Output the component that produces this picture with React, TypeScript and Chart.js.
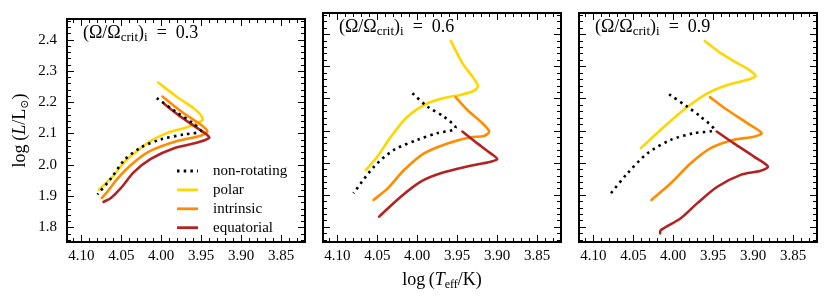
import React, { useEffect, useRef } from 'react';
import { Chart, registerables } from 'chart.js';

Chart.register(...registerables);

// ---------- data ----------
const seriesLabels = ['non-rotating', 'polar', 'intrinsic', 'equatorial'];
const seriesColors = ['#000000', '#FFD700', '#FF8C00', '#B22222'];
const rotationRates = ['0.3', '0.6', '0.9'];

const xTickValues = [4.1, 4.05, 4.0, 3.95, 3.9, 3.85];
const xTickLabels = ['4.10', '4.05', '4.00', '3.95', '3.90', '3.85'];
const yTickValues = [1.8, 1.9, 2.0, 2.1, 2.2, 2.3, 2.4];
const yTickLabels = ['1.8', '1.9', '2.0', '2.1', '2.2', '2.3', '2.4'];

type P = [number, number];

// Omega = 0.3
const w03NonRot: P[] = [[4.0056, 2.213], [3.982, 2.17], [3.9606, 2.133], [3.9506, 2.107], [3.9715, 2.097], [4.0006, 2.081], [4.0256, 2.055], [4.0465, 2.014], [4.063, 1.956], [4.0798, 1.905]];
const w03Polar: P[] = [[4.004, 2.263], [3.9797, 2.216], [3.959, 2.18], [3.9506, 2.159], [3.9485, 2.143], [3.9569, 2.131], [3.9715, 2.117], [3.9923, 2.102], [4.0131, 2.076], [4.0298, 2.045], [4.0465, 2.008], [4.059, 1.967], [4.0673, 1.946], [4.0778, 1.92]];
const w03Intrinsic: P[] = [[3.9985, 2.218], [3.9715, 2.164], [3.9506, 2.128], [3.9423, 2.107], [3.9506, 2.093], [3.98, 2.076], [4.0131, 2.045], [4.034, 2.008], [4.0548, 1.956], [4.067, 1.915], [4.0744, 1.894]];
const w03Equatorial: P[] = [[3.9965, 2.195], [3.978, 2.158], [3.957, 2.121], [3.9444, 2.099], [3.94, 2.086], [3.9548, 2.071], [3.984, 2.053], [4.0131, 2.019], [4.034, 1.977], [4.0506, 1.925], [4.063, 1.894], [4.0723, 1.881]];

// Omega = 0.6
const w06NonRot: P[] = [[4.006, 2.216], [3.987, 2.174], [3.9665, 2.143], [3.9519, 2.107], [3.9748, 2.092], [3.9998, 2.071], [4.029, 2.04], [4.054, 1.988], [4.0798, 1.905]];
const w06Polar: P[] = [[3.958, 2.379], [3.9435, 2.31], [3.931, 2.268], [3.924, 2.239], [3.929, 2.224], [3.9456, 2.211], [3.962, 2.204], [3.987, 2.185], [4.0123, 2.143], [4.033, 2.081], [4.0498, 2.019], [4.0644, 1.977]];
const w06Intrinsic: P[] = [[3.952, 2.204], [3.9373, 2.164], [3.9206, 2.128], [3.91, 2.097], [3.9165, 2.083], [3.933, 2.079], [3.962, 2.06], [3.9915, 2.029], [4.0165, 1.977], [4.037, 1.92], [4.0548, 1.884]];
const w06Equatorial: P[] = [[3.9435, 2.097], [3.9248, 2.06], [3.9081, 2.029], [3.8998, 2.011], [3.908, 2.003], [3.9373, 1.988], [3.9706, 1.967], [3.9956, 1.941], [4.0206, 1.894], [4.0477, 1.832]];

// Omega = 0.9
const w09NonRot: P[] = [[4.0052, 2.213], [3.9823, 2.174], [3.9656, 2.143], [3.949, 2.102], [3.974, 2.092], [4.003, 2.071], [4.0323, 2.029], [4.0573, 1.967], [4.079, 1.902]];
const w09Polar: P[] = [[3.9606, 2.379], [3.9406, 2.341], [3.9198, 2.31], [3.9052, 2.289], [3.8969, 2.27], [3.9073, 2.258], [3.9323, 2.242], [3.9573, 2.216], [3.982, 2.174], [4.0115, 2.112], [4.0406, 2.045]];
const w09Intrinsic: P[] = [[3.954, 2.204], [3.9323, 2.164], [3.9073, 2.123], [3.8894, 2.092], [3.899, 2.081], [3.924, 2.071], [3.9531, 2.045], [3.9781, 1.998], [4.0031, 1.936], [4.0273, 1.884]];
const w09Equatorial: P[] = [[3.9456, 2.097], [3.924, 2.06], [3.899, 2.019], [3.8815, 1.988], [3.8906, 1.975], [3.9156, 1.962], [3.9448, 1.925], [3.9698, 1.874], [3.9906, 1.827], [4.0156, 1.79], [4.0165, 1.78]];

const panelSeries: P[][][] = [
  [w03NonRot, w03Polar, w03Intrinsic, w03Equatorial],
  [w06NonRot, w06Polar, w06Intrinsic, w06Equatorial],
  [w09NonRot, w09Polar, w09Intrinsic, w09Equatorial],
];

// ---------- styling / layout ----------
const FAMILY = '"Liberation Serif", "DejaVu Serif", serif';
const X_MIN = 3.82;
const X_MAX = 4.118;
const Y_MIN = 1.753;
const Y_MAX = 2.466;
const PANEL_LEFT = [67, 323, 579];
const PANEL_W = 238;
const W = 830;
const H = 303;

type Seg = { t: string; size: number; italic?: boolean; dy?: number };

function drawRich(ctx: CanvasRenderingContext2D, segs: Seg[], x: number, y: number, align: 'left' | 'center') {
  const fontOf = (s: Seg) => `${s.italic ? 'italic ' : ''}${s.size}px ${FAMILY}`;
  let total = 0;
  const widths = segs.map((s) => {
    ctx.font = fontOf(s);
    const w = ctx.measureText(s.t).width;
    total += w;
    return w;
  });
  let cx = align === 'center' ? x - total / 2 : x;
  ctx.textBaseline = 'alphabetic';
  ctx.textAlign = 'left';
  segs.forEach((s, i) => {
    ctx.font = fontOf(s);
    ctx.fillText(s.t, cx, y + (s.dy || 0));
    cx += widths[i];
  });
}

function decoPlugin(panel: number) {
  return {
    id: 'deco' + panel,
    afterDraw(chart: any) {
      const { ctx, chartArea: a } = chart;
      const xs = chart.scales.x;
      const ys = chart.scales.y;
      ctx.save();
      ctx.strokeStyle = '#000';
      ctx.fillStyle = '#000';
      ctx.lineWidth = 1;
      ctx.setLineDash([]);
      ctx.beginPath();
      // x ticks (minor every 0.01, major every 0.05)
      for (let i = 382; i <= 411; i++) {
        const v = i / 100;
        const px = Math.round(xs.getPixelForValue(v)) + 0.5;
        if (px <= a.left + 1 || px >= a.right - 1) continue;
        const len = i % 5 === 0 ? 7 : 4;
        ctx.moveTo(px, a.bottom);
        ctx.lineTo(px, a.bottom - len);
        ctx.moveTo(px, a.top);
        ctx.lineTo(px, a.top + len);
      }
      // y ticks (minor every 0.02, major every 0.1)
      for (let i = 88; i <= 123; i++) {
        const v = i / 50;
        const py = Math.round(ys.getPixelForValue(v)) + 0.5;
        if (py <= a.top + 1 || py >= a.bottom - 1) continue;
        const len = i % 5 === 0 ? 7 : 4;
        ctx.moveTo(a.left, py);
        ctx.lineTo(a.left + len, py);
        ctx.moveTo(a.right, py);
        ctx.lineTo(a.right - len, py);
      }
      ctx.stroke();
      // frame
      ctx.lineWidth = 2;
      ctx.strokeRect(a.left, a.top, a.right - a.left, a.bottom - a.top);

      // annotation
      drawRich(
        ctx,
        [
          { t: '(', size: 18 },
          { t: 'Ω', size: 18 },
          { t: '/', size: 18 },
          { t: 'Ω', size: 18 },
          { t: 'crit', size: 13, dy: 3 },
          { t: ')', size: 18 },
          { t: 'i', size: 13, dy: 3 },
          { t: '\u2002=\u2002', size: 18 },
          { t: rotationRates[panel], size: 18 },
        ],
        a.left + 16,
        a.top + 19,
        'left'
      );

      if (panel === 0) {
        // legend
        seriesLabels.forEach((lab, k) => {
          const yy = a.top + 152 + k * 18.9;
          ctx.beginPath();
          ctx.strokeStyle = seriesColors[k];
          ctx.lineWidth = 2.8;
          ctx.lineCap = 'butt';
          ctx.setLineDash(k === 0 ? [2.5, 4.2] : []);
          ctx.moveTo(a.left + 110, yy);
          ctx.lineTo(a.left + 131, yy);
          ctx.stroke();
          ctx.setLineDash([]);
          ctx.fillStyle = '#000';
          ctx.font = `15px ${FAMILY}`;
          ctx.textBaseline = 'middle';
          ctx.textAlign = 'left';
          ctx.fillText(lab, a.left + 146, yy);
        });
        // y title
        ctx.save();
        ctx.translate(25, (a.top + a.bottom) / 2);
        ctx.rotate(-Math.PI / 2);
        ctx.fillStyle = '#000';
        drawRich(
          ctx,
          [
            { t: 'log\u2009(', size: 18 },
            { t: 'L', size: 18, italic: true },
            { t: '/L', size: 18 },
            { t: '⊙', size: 11, dy: 3 },
            { t: ')', size: 18 },
          ],
          0,
          0,
          'center'
        );
        ctx.restore();
      }
      if (panel === 1) {
        ctx.fillStyle = '#000';
        drawRich(
          ctx,
          [
            { t: 'log\u2009(', size: 18 },
            { t: 'T', size: 18, italic: true },
            { t: 'eff', size: 12, dy: 3 },
            { t: '/K)', size: 18 },
          ],
          (a.left + a.right) / 2,
          285,
          'center'
        );
      }
      ctx.restore();
    },
  };
}

function makeConfig(panel: number): any {
  const left = PANEL_LEFT[panel];
  const showY = panel === 0;
  return {
    type: 'scatter',
    data: {
      datasets: panelSeries[panel].map((pts, k) => ({
        label: seriesLabels[k],
        data: pts.map(([x, y]) => ({ x, y })),
        showLine: true,
        borderColor: seriesColors[k],
        backgroundColor: seriesColors[k],
        borderWidth: 2.6,
        borderDash: k === 0 ? [2.5, 4.2] : [],
        borderCapStyle: k === 0 ? 'butt' : 'round',
        borderJoinStyle: 'round',
        pointRadius: 0,
        tension: 0.3,
        order: [0, 3, 2, 1][k],
      })),
    },
    options: {
      responsive: false,
      animation: false,
      devicePixelRatio: 1,
      events: [],
      layout: {
        padding: {
          left: showY ? 0 : left,
          right: W - (left + PANEL_W),
          top: 13,
          bottom: 0,
        },
      },
      plugins: { legend: { display: false }, tooltip: { enabled: false }, title: { display: false } },
      scales: {
        x: {
          type: 'linear',
          reverse: true,
          min: X_MIN,
          max: X_MAX,
          grid: { display: false, drawTicks: false },
          border: { display: false },
          afterBuildTicks: (s: any) => {
            s.ticks = xTickValues.map((v) => ({ value: v }));
          },
          afterFit: (s: any) => {
            s.height = H - 13 - 229;
          },
          ticks: {
            autoSkip: false,
            maxRotation: 0,
            padding: 5,
            color: '#000',
            font: { family: FAMILY, size: 15 },
            callback: (_v: any, i: number) => xTickLabels[i],
          },
        },
        y: {
          type: 'linear',
          min: Y_MIN,
          max: Y_MAX,
          grid: { display: false, drawTicks: false },
          border: { display: false },
          afterBuildTicks: (s: any) => {
            s.ticks = yTickValues.map((v) => ({ value: v }));
          },
          afterFit: (s: any) => {
            s.width = showY ? left : 0;
          },
          ticks: {
            display: showY,
            autoSkip: false,
            padding: 10,
            color: '#000',
            font: { family: FAMILY, size: 15 },
            callback: (_v: any, i: number) => yTickLabels[i],
          },
        },
      },
    },
    plugins: [decoPlugin(panel)],
  };
}

export default function App() {
  const r0 = useRef<HTMLCanvasElement>(null);
  const r1 = useRef<HTMLCanvasElement>(null);
  const r2 = useRef<HTMLCanvasElement>(null);
  const refs = [r0, r1, r2];

  useEffect(() => {
    const charts = refs.map((r, i) => new Chart(r.current as HTMLCanvasElement, makeConfig(i)));
    return () => charts.forEach((c) => c.destroy());
  }, []);

  return (
    <div style={{ position: 'absolute', left: 0, top: 0, width: W, height: H, background: '#fff' }}>
      {refs.map((r, i) => (
        <canvas
          key={i}
          ref={r}
          width={W}
          height={H}
          style={{ position: 'absolute', left: 0, top: 0, width: W, height: H }}
        />
      ))}
    </div>
  );
}
